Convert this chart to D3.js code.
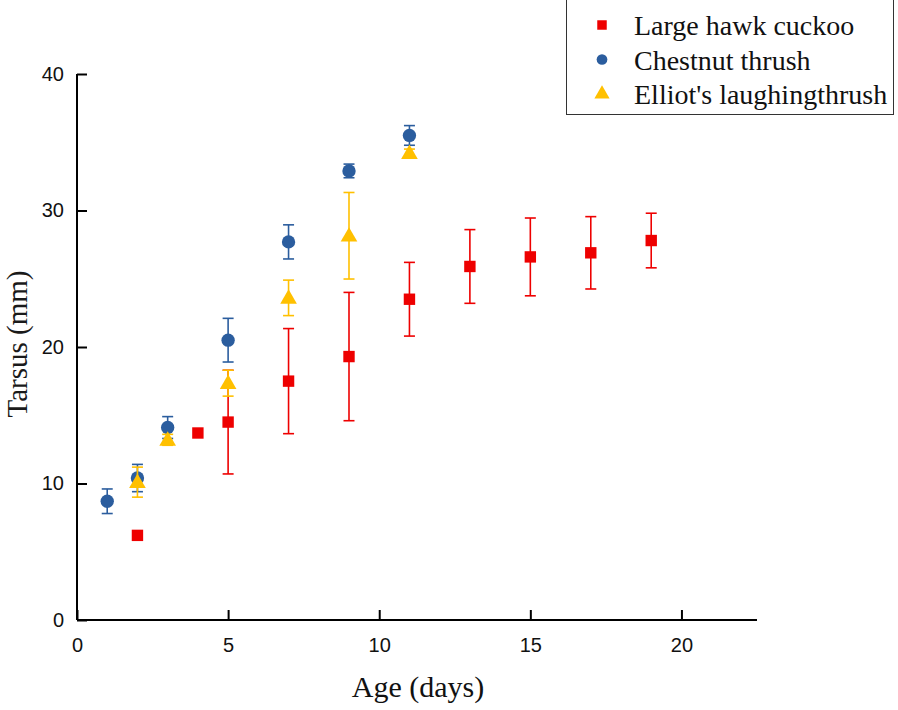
<!DOCTYPE html>
<html>
<head>
<meta charset="utf-8">
<script src="https://cdn.jsdelivr.net/npm/d3@7"></script>
<style>
  html, body { margin: 0; padding: 0; background: #fff; }
  svg { display: block; }
</style>
</head>
<body>
<svg id="chart" width="898" height="710"></svg>
<script>
// ---- Data ----
const seriesNames = ["Large hawk cuckoo", "Chestnut thrush", "Elliot's laughingthrush"];

const cuckooAge  = [2, 4, 5, 7, 9, 11, 13, 15, 17, 19];
const cuckooMean = [6.2, 13.7, 14.5, 17.5, 19.3, 23.5, 25.9, 26.6, 26.9, 27.8];
const cuckooSD   = [0, 0, 3.8, 3.85, 4.7, 2.7, 2.7, 2.85, 2.65, 2.0];

const thrushAge  = [1, 2, 3, 5, 7, 9, 11];
const thrushMean = [8.7, 10.4, 14.1, 20.5, 27.7, 32.9, 35.5];
const thrushSD   = [0.9, 1.0, 0.8, 1.6, 1.25, 0.5, 0.72];

const elliotAge  = [2, 3, 5, 7, 9, 11];
const elliotMean = [10.1, 13.2, 17.35, 23.6, 28.15, 34.2];
const elliotSD   = [1.1, 0.4, 0.95, 1.3, 3.17, 0.3];

const xTicks = [0, 5, 10, 15, 20];
const yTicks = [0, 10, 20, 30, 40];

// ---- Layout ----
const svg = d3.select("#chart");
const x = d3.scaleLinear().domain([0, 22.5]).range([77, 757]);
const y = d3.scaleLinear().domain([0, 40]).range([620, 74]);

const colors = { cuckoo: "#ee0000", thrush: "#2b5d9e", elliot: "#ffc000" };

// ---- Axes ----
const xAxis = d3.axisBottom(x).tickValues(xTicks).tickSizeInner(-10).tickSizeOuter(0).tickPadding(18);
const yAxis = d3.axisLeft(y).tickValues(yTicks).tickSizeInner(-10).tickSizeOuter(0).tickPadding(13);

const gx = svg.append("g").attr("transform", `translate(0,${y(0)})`).call(xAxis);
const gy = svg.append("g").attr("transform", `translate(${x(0)},0)`).call(yAxis);
[gx, gy].forEach(g => {
  g.select(".domain").attr("stroke", "#000").attr("stroke-width", 2);
  g.selectAll(".tick line").attr("stroke", "#000").attr("stroke-width", 2);
  g.selectAll(".tick text").attr("font-family", "Liberation Sans, Arial, sans-serif")
    .attr("font-size", 20).attr("fill", "#111");
});
gx.select(".domain").attr("d", `M${x(0)},0H${x(22.5)}`);
gy.select(".domain").attr("d", `M0,${y(0)}V${y(40)}`);

// ---- Axis titles ----
svg.append("text")
  .attr("x", 418).attr("y", 697)
  .attr("text-anchor", "middle")
  .attr("font-family", "Liberation Serif, Times New Roman, serif")
  .attr("font-size", 30).attr("fill", "#111")
  .text("Age (days)");

svg.append("text")
  .attr("transform", "translate(27,344) rotate(-90)")
  .attr("text-anchor", "middle")
  .attr("font-family", "Liberation Serif, Times New Roman, serif")
  .attr("font-size", 29).attr("fill", "#1a1a1a")
  .text("Tarsus (mm)");

// ---- Series ----
function drawSeries(ages, means, sds, color, shape) {
  const data = ages.map((a, i) => ({ a, m: means[i], s: sds[i] }));
  const g = svg.append("g");
  const capW = 5.5;
  const eb = g.selectAll("g.eb").data(data.filter(d => d.s > 0)).enter().append("g")
    .attr("stroke", color).attr("stroke-width", 1.6);
  eb.append("line").attr("x1", d => x(d.a)).attr("x2", d => x(d.a))
    .attr("y1", d => y(d.m + d.s)).attr("y2", d => y(d.m - d.s));
  eb.append("line").attr("x1", d => x(d.a) - capW).attr("x2", d => x(d.a) + capW)
    .attr("y1", d => y(d.m + d.s)).attr("y2", d => y(d.m + d.s));
  eb.append("line").attr("x1", d => x(d.a) - capW).attr("x2", d => x(d.a) + capW)
    .attr("y1", d => y(d.m - d.s)).attr("y2", d => y(d.m - d.s));

  const sym = d3.symbol().type(shape.type).size(shape.size);
  g.selectAll("path.pt").data(data).enter().append("path")
    .attr("transform", d => `translate(${x(d.a)},${y(d.m) + (shape.dy || 0)})`)
    .attr("d", sym).attr("fill", color);
}

drawSeries(cuckooAge, cuckooMean, cuckooSD, colors.cuckoo, { type: d3.symbolSquare, size: 130 });
drawSeries(thrushAge, thrushMean, thrushSD, colors.thrush, { type: d3.symbolCircle, size: 140 });
drawSeries(elliotAge, elliotMean, elliotSD, colors.elliot, { type: d3.symbolTriangle, size: 120, dy: 1 });

// ---- Legend ----
const lg = svg.append("g");
lg.append("rect").attr("x", 566.5).attr("y", -2).attr("width", 327).attr("height", 116.5)
  .attr("fill", "#fff").attr("stroke", "#333").attr("stroke-width", 1);
const legendItems = [
  { name: seriesNames[0], color: colors.cuckoo, type: d3.symbolSquare, size: 90 },
  { name: seriesNames[1], color: colors.thrush, type: d3.symbolCircle, size: 90 },
  { name: seriesNames[2], color: colors.elliot, type: d3.symbolTriangle, size: 100 }
];
legendItems.forEach((it, i) => {
  const cy = 25 + i * 34.5;
  lg.append("path").attr("transform", `translate(602,${cy})`)
    .attr("d", d3.symbol().type(it.type).size(it.size)).attr("fill", it.color);
  lg.append("text").attr("x", 634).attr("y", cy + 10)
    .attr("font-family", "Liberation Serif, Times New Roman, serif")
    .attr("font-size", 28).attr("fill", "#111").text(it.name);
});
</script>
</body>
</html>
